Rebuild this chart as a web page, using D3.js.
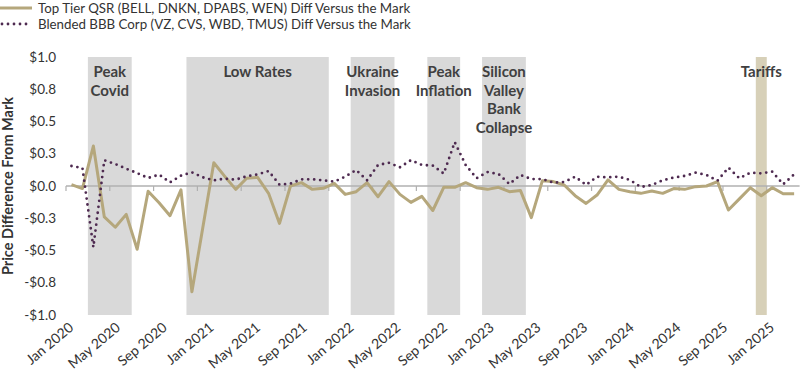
<!DOCTYPE html>
<html>
<head>
<meta charset="utf-8">
<script src="https://cdn.jsdelivr.net/npm/d3@7"></script>
<style>
  body { margin: 0; background: #fff; }
  svg { font-family: Lato, "Open Sans", sans-serif; }
</style>
</head>
<body>
<div id="chart"></div>
<script>
// monthly categories, Jan 2020 - Jul 2025
const months = d3.timeMonth.range(new Date(2020, 0, 1), new Date(2025, 7, 1));

// Top Tier QSR diff vs the mark
const qsr = [0.01, -0.02, 0.31, -0.24, -0.32, -0.22, -0.49, -0.04, -0.13, -0.23,
  -0.03, -0.82, -0.32, 0.18, 0.075, -0.026, 0.06, 0.067, -0.057, -0.29,
  0.0, 0.026, -0.026, -0.018, 0.02, -0.065, -0.044, 0.026, -0.083, 0.034,
  -0.065, -0.127, -0.08, -0.19, -0.01, -0.01, 0.026, -0.013, -0.026, -0.01,
  -0.044, -0.034, -0.245, 0.04, 0.034, 0.008, -0.075, -0.135, -0.07, 0.047,
  -0.026, -0.044, -0.057, -0.039, -0.057, -0.02, -0.026, -0.005, 0.0, 0.034,
  -0.186, -0.10, -0.013, -0.075, -0.013, -0.06, -0.06];

// Blended BBB Corp diff vs the mark
const bbb = [0.155, 0.14, -0.475, 0.2, 0.17, 0.134, 0.10, 0.062, 0.088, 0.028,
  0.08, 0.106, 0.067, 0.044, 0.057, 0.049, 0.075, 0.09, 0.116, 0.01,
  0.018, 0.052, 0.052, 0.044, 0.034, 0.072, 0.124, 0.044, 0.163, 0.18,
  0.145, 0.2, 0.163, 0.158, 0.096, 0.34, 0.163, 0.06, 0.108, 0.093,
  0.015, 0.085, 0.054, 0.054, 0.026, 0.031, 0.072, 0.008, 0.072, 0.067,
  0.072, 0.047, -0.008, 0.008, 0.044, 0.065, 0.078, 0.103, 0.085, 0.041,
  0.142, 0.06, 0.103, 0.098, 0.111, 0.013, 0.09];

const xLabels = ["Jan 2020", "May 2020", "Sep 2020", "Jan 2021", "May 2021", "Sep 2021",
  "Jan 2022", "May 2022", "Sep 2022", "Jan 2023", "May 2023", "Sep 2023",
  "Jan 2024", "May 2024", "Sep 2025", "Jan 2025"];
const yTicks = [-1, -0.75, -0.5, -0.25, 0, 0.25, 0.5, 0.75, 1];

// shaded periods (first and last month index)
const eventNames = [["Peak", "Covid"], ["Low Rates"], ["Ukraine", "Invasion"],
  ["Peak", "Inflation"], ["Silicon", "Valley", "Bank", "Collapse"], ["Tariffs"]];
const eventStart = [2, 11, 26, 33, 38, 63];
const eventEnd = [5, 23, 29, 35, 41, 63];
const eventFill = ["#d9d9d9", "#d9d9d9", "#d9d9d9", "#d9d9d9", "#d9d9d9", "#d7d0b8"];

const width = 800, height = 375;
const plotL = 66, plotR = 799.6, plotT = 57, plotB = 315;

const svg = d3.select("#chart").append("svg")
  .attr("width", width).attr("height", height);

const x = d3.scaleBand().domain(d3.range(months.length)).range([plotL, plotR]);
const y = d3.scaleLinear().domain([-1, 1]).range([plotB, plotT]);
const cx = i => x(i) + x.bandwidth() / 2;

// shaded bands
eventNames.forEach((lines, k) => {
  const x0 = x(eventStart[k]), x1 = x(eventEnd[k]) + x.bandwidth();
  svg.append("rect")
    .attr("x", x0).attr("y", plotT)
    .attr("width", x1 - x0).attr("height", plotB - plotT)
    .attr("fill", eventFill[k]);
  const t = svg.append("text")
    .attr("text-anchor", "middle")
    .attr("font-size", 15).attr("font-weight", 700)
    .attr("fill", "#404040");
  lines.forEach((ln, j) => {
    t.append("tspan").attr("x", (x0 + x1) / 2).attr("y", 77 + j * 18.5).text(ln);
  });
});

// y labels
svg.append("g").selectAll("text").data(yTicks).join("text")
  .attr("x", 56).attr("y", d => y(d))
  .attr("dy", "0.35em")
  .attr("text-anchor", "end")
  .attr("font-size", 13.5).attr("fill", "#333")
  .text(d => (d < 0 ? "-$" : "$") + d3.format(".1f")(Math.abs(d) + 1e-9));

svg.append("text")
  .attr("transform", `translate(13,${y(0)}) rotate(-90)`)
  .attr("text-anchor", "middle")
  .attr("font-size", 14.5).attr("font-weight", 700).attr("fill", "#333")
  .text("Price Difference From Mark");

// zero axis with ticks every 4 months
svg.append("line")
  .attr("x1", plotL).attr("x2", plotR)
  .attr("y1", y(0)).attr("y2", y(0))
  .attr("stroke", "#b0b0b0").attr("stroke-width", 1.5);
svg.append("g").selectAll("line").data(d3.range(0, months.length, 4)).join("line")
  .attr("x1", d => x(d)).attr("x2", d => x(d))
  .attr("y1", y(0)).attr("y2", y(0) + 5)
  .attr("stroke", "#b0b0b0").attr("stroke-width", 1.2);

// x labels
const xl = d3.scalePoint().domain(xLabels).range([cx(0) + 3, cx(64) + 3]);
svg.append("g").selectAll("text").data(xLabels).join("text")
  .attr("transform", d => `translate(${xl(d)},329) rotate(-40)`)
  .attr("text-anchor", "end")
  .attr("font-size", 14).attr("fill", "#333")
  .text(d => d);

// lines
const line = d3.line().x((d, i) => cx(i)).y(d => y(d));
svg.append("path").datum(qsr)
  .attr("d", line).attr("fill", "none")
  .attr("stroke", "#b5a77c").attr("stroke-width", 3)
  .attr("stroke-linejoin", "round");
svg.append("path").datum(bbb)
  .attr("d", line).attr("fill", "none")
  .attr("stroke", "#4e2a50").attr("stroke-width", 2.8)
  .attr("stroke-dasharray", "0,6").attr("stroke-linecap", "round");

// legend
const legend = svg.append("g");
legend.append("line").attr("x1", 0).attr("x2", 32).attr("y1", 8).attr("y2", 8)
  .attr("stroke", "#b5a77c").attr("stroke-width", 3);
legend.append("line").attr("x1", 2).attr("x2", 32).attr("y1", 24).attr("y2", 24)
  .attr("stroke", "#4e2a50").attr("stroke-width", 2.8)
  .attr("stroke-dasharray", "0,6").attr("stroke-linecap", "round");
legend.append("text").attr("x", 38).attr("y", 8).attr("dy", "0.35em")
  .attr("font-size", 13.3).attr("fill", "#333")
  .text("Top Tier QSR (BELL, DNKN, DPABS, WEN) Diff Versus the Mark");
legend.append("text").attr("x", 38).attr("y", 24).attr("dy", "0.35em")
  .attr("font-size", 13.3).attr("fill", "#333")
  .text("Blended BBB Corp (VZ, CVS, WBD, TMUS) Diff Versus the Mark");
</script>
</body>
</html>
